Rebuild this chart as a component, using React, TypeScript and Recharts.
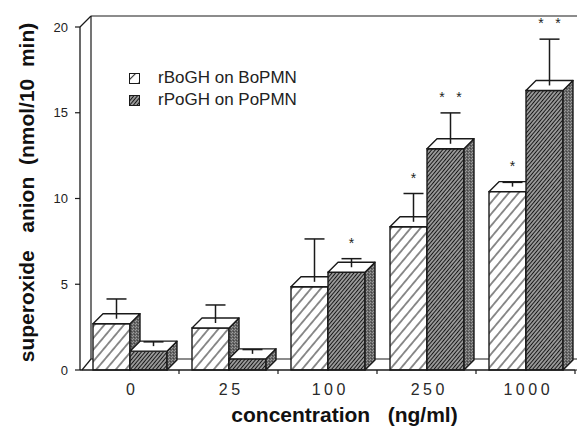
import React from 'react';
import { BarChart, Bar, XAxis, YAxis, ReferenceArea, Legend, Label } from 'recharts';

const categories = ['0', '25', '100', '250', '1000'];
const boValues = [2.7, 2.45, 4.85, 8.35, 10.4];
const boErrors = [1.15, 1.05, 2.5, 1.65, 0.25];
const boStars = ['', '', '', '*', '*'];
const poValues = [1.1, 0.65, 5.7, 12.9, 16.3];
const poErrors = [0.25, 0.25, 0.5, 1.8, 2.7];
const poStars = ['', '', '*', '**', '**'];
const yTicks = [0, 5, 10, 15, 20];
const yMinorTicks = [2.5, 7.5, 12.5, 17.5];
const seriesNames = ['rBoGH on BoPMN', 'rPoGH on PoPMN'];

const data = categories.map((c, i) => ({
  cat: c,
  bo: boValues[i],
  boErr: boErrors[i],
  boStar: boStars[i],
  po: poValues[i],
  poErr: poErrors[i],
  poStar: poStars[i],
}));

const FONT = '"Liberation Sans", Arial, Helvetica, sans-serif';
const INK = '#1a1a1a';
const DX = 10;
const DY = -10;
const WDX = 11;
const WDY = -11;

const makeBox = (fillId: string, valKey: string, errKey: string, starKey: string) => (props: any) => {
  const { x, y, width: w, height: h, payload } = props;
  if (!payload || !h) return <g />;
  const v = payload[valKey];
  const err = payload[errKey];
  const star = payload[starKey];
  const ppu = h / v;
  const cx = x + w / 2 + DX / 2;
  const cy = y + DY / 2;
  const capY = y - err * ppu + DY / 2;
  const starY = capY - 18;
  const starXs = star === '**' ? [cx - 8.5, cx + 8.5] : star === '*' ? [cx] : [];
  return (
    <g>
      <rect x={x} y={y} width={w} height={h} fill={`url(#${fillId})`} stroke={INK} strokeWidth={1.4} />
      <polygon
        points={`${x + w},${y} ${x + w + DX},${y + DY} ${x + w + DX},${y + h + DY} ${x + w},${y + h}`}
        fill="url(#stipple)"
        stroke={INK}
        strokeWidth={1.4}
        strokeLinejoin="round"
      />
      <polygon
        points={`${x},${y} ${x + DX},${y + DY} ${x + w + DX},${y + DY} ${x + w},${y}`}
        fill="#fff"
        stroke={INK}
        strokeWidth={1.4}
        strokeLinejoin="round"
      />
      {err > 0 && (
        <g stroke={INK} strokeWidth={1.5}>
          <line x1={cx} y1={cy} x2={cx} y2={capY} />
          <line x1={cx - 10} y1={capY} x2={cx + 10} y2={capY} />
        </g>
      )}
      {starXs.map((sx, i) => (
        <text key={i} x={sx} y={starY + 7} textAnchor="middle" fontSize={14} fontFamily={FONT} fill="#222">
          *
        </text>
      ))}
    </g>
  );
};

const WallShape = (props: any) => {
  const { x, y, width: w, height: h } = props;
  if (x == null) return <g />;
  const n = categories.length;
  const right = x + w + 2;
  const ticks = [];
  for (let k = 1; k <= n; k++) {
    const tx = x + (w * k) / n;
    ticks.push(<line key={k} x1={tx} y1={y + h} x2={tx} y2={y + h + 4} />);
  }
  return (
    <g stroke={INK} strokeWidth={1.2} fill="none">
      <line x1={x} y1={y} x2={x + WDX} y2={y + WDY} />
      <line x1={x + WDX} y1={y + WDY} x2={right} y2={y + WDY} />
      <line x1={x + WDX} y1={y + WDY} x2={x + WDX} y2={y + h + WDY} />
      <line x1={x + WDX} y1={y + h + WDY} x2={right} y2={y + h + WDY} />
      <line x1={x + 2} y1={y + h} x2={x + WDX} y2={y + h + WDY} />
      <line x1={x + w} y1={y + h} x2={right} y2={y + h} />
      {ticks}
    </g>
  );
};

const XTick = (props: any) => {
  const { x, y, payload } = props;
  const ls = 3.5;
  return (
    <text
      x={x + ls / 2 + 1}
      y={y + 25}
      textAnchor="middle"
      fontSize={16}
      fontFamily={FONT}
      fill="#2a2a2a"
      style={{ letterSpacing: `${ls}px` }}
    >
      {payload.value}
    </text>
  );
};

const YLabel = (props: any) => {
  const vb = props.viewBox || { x: 0, y: 27, width: 80, height: 343 };
  const cx = vb.x + 34;
  const cy = vb.y + vb.height / 2 - 6;
  return (
    <text
      x={cx}
      y={cy}
      transform={`rotate(-90 ${cx} ${cy})`}
      textAnchor="middle"
      fontSize={21}
      fontWeight="bold"
      fontFamily={FONT}
      fill="#111"
    >
      {'superoxide\u00A0\u00A0\u00A0anion\u00A0\u00A0(nmol/10\u00A0\u00A0min)'}
    </text>
  );
};

const XLabel = (props: any) => {
  const vb = props.viewBox || { x: 80, y: 370, width: 495, height: 60 };
  return (
    <text
      x={vb.x + vb.width / 2 + 17}
      y={vb.y + 52}
      textAnchor="middle"
      fontSize={21}
      fontWeight="bold"
      fontFamily={FONT}
      fill="#111"
    >
      {'concentration\u00A0\u00A0\u00A0(ng/ml)'}
    </text>
  );
};

const renderLegend = () => (
  <svg width={200} height={48} style={{ display: 'block', overflow: 'visible' }}>
    <rect x={4.5} y={8.5} width={10} height={10} fill="url(#hatchLightLg)" stroke={INK} strokeWidth={1} />
    <text x={33} y={18} fontSize={17} fontFamily={FONT} fill="#222">
      {seriesNames[0]}
    </text>
    <rect x={4.5} y={30.5} width={10} height={10} fill="url(#hatchDark)" stroke={INK} strokeWidth={1} />
    <text x={33} y={40} fontSize={17} fontFamily={FONT} fill="#222">
      {seriesNames[1]}
    </text>
  </svg>
);

export default function App() {
  return (
    <div style={{ position: 'absolute', left: 0, top: 0, width: 577, height: 430, background: '#fff' }}>
      <BarChart
        width={577}
        height={430}
        data={data}
        margin={{ top: 27, right: 2, bottom: 0, left: 0 }}
        barGap={0}
        barSize={37}
      >
        <defs>
          <pattern id="hatchLight" patternUnits="userSpaceOnUse" width={7.5} height={8} patternTransform="rotate(40)">
            <rect width={7.5} height={8} fill="#fff" />
            <line x1={3.75} y1={0} x2={3.75} y2={8} stroke="#333" strokeWidth={1.1} />
          </pattern>
          <pattern id="hatchLightLg" patternUnits="userSpaceOnUse" width={9} height={9} patternTransform="rotate(45)">
            <rect width={9} height={9} fill="#fff" />
            <line x1={4.5} y1={0} x2={4.5} y2={9} stroke="#333" strokeWidth={1.1} />
          </pattern>
          <pattern id="hatchDark" patternUnits="userSpaceOnUse" width={2.8} height={6} patternTransform="rotate(40)">
            <rect width={2.8} height={6} fill="#f2f2f2" />
            <line x1={1.4} y1={0} x2={1.4} y2={6} stroke="#161616" strokeWidth={1.7} />
          </pattern>
          <pattern id="stipple" patternUnits="userSpaceOnUse" width={3} height={3}>
            <rect width={3} height={3} fill="#666" />
            <rect x={0} y={0} width={1} height={1} fill="#999" />
            <rect x={2} y={1} width={1} height={1} fill="#444" />
            <rect x={1} y={2} width={1} height={1} fill="#9e9e9e" />
          </pattern>
        </defs>
        <XAxis
          dataKey="cat"
          height={60}
          tickLine={false}
          tickSize={0}
          tickMargin={0}
          interval={0}
          tick={<XTick />}
          axisLine={{ stroke: INK, strokeWidth: 1.3 }}
        >
          <Label content={<XLabel />} />
        </XAxis>
        <YAxis
          yAxisId="minor"
          width={0}
          type="number"
          domain={[0, 20]}
          ticks={yMinorTicks}
          interval={0}
          tick={false}
          tickSize={3}
          tickLine={{ stroke: INK, strokeWidth: 1 }}
          axisLine={false}
          allowDataOverflow
        />
        <YAxis
          width={80}
          type="number"
          domain={[0, 20]}
          ticks={yTicks}
          interval={0}
          tickSize={5}
          tickMargin={7}
          tick={{ fontSize: 13, fill: '#222', fontFamily: FONT }}
          tickLine={{ stroke: INK, strokeWidth: 1.2 }}
          axisLine={{ stroke: INK, strokeWidth: 1.3 }}
        >
          <Label content={<YLabel />} />
        </YAxis>
        <ReferenceArea y1={0} y2={20} shape={<WallShape />} fill="none" stroke="none" />
        <Legend
          layout="vertical"
          align="center"
          verticalAlign="middle"
          content={renderLegend}
          wrapperStyle={{ left: 125, top: 65, width: 200 }}
        />
        <Bar
          dataKey="bo"
          name={seriesNames[0]}
          fill="#fff"
          isAnimationActive={false}
          shape={makeBox('hatchLight', 'bo', 'boErr', 'boStar')}
        />
        <Bar
          dataKey="po"
          name={seriesNames[1]}
          fill="#444"
          isAnimationActive={false}
          shape={makeBox('hatchDark', 'po', 'poErr', 'poStar')}
        />
      </BarChart>
    </div>
  );
}
